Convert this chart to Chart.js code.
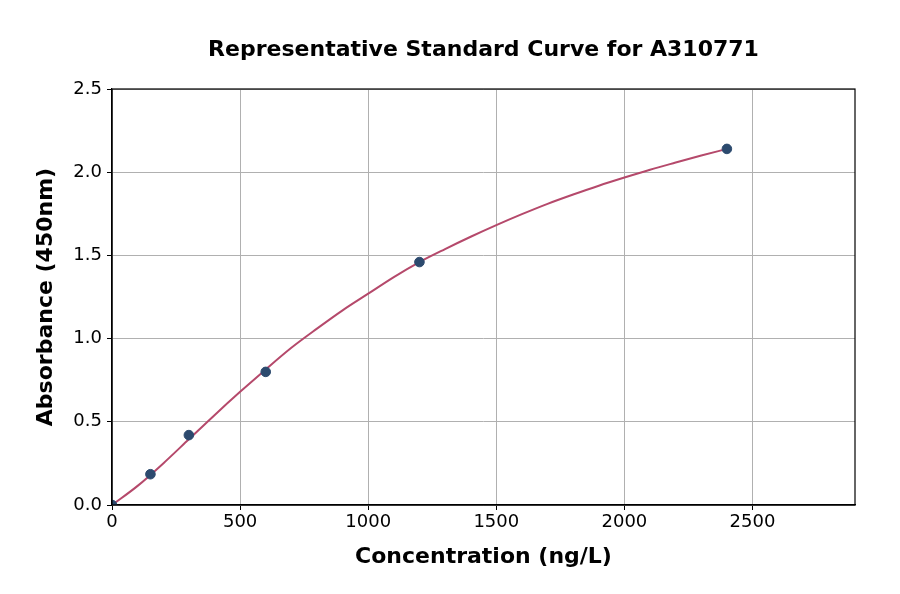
<!DOCTYPE html>
<html>
<head>
<meta charset="utf-8">
<script src="https://cdn.jsdelivr.net/npm/chart.js@4"></script>
<style>
  html, body { margin: 0; padding: 0; background: #fff; }
  #wrap { width: 900px; height: 594px; }
</style>
</head>
<body>
<div id="wrap"><canvas id="chart"></canvas></div>
<script>
// Standard points (measured)
const stdConc = [0, 150, 300, 600, 1200, 2400];
const stdAbs = [0.0, 0.185, 0.42, 0.80, 1.46, 2.14];

// Fitted curve
const curveConc = [0, 100, 200, 300, 400, 500, 600, 700, 800, 900, 1000, 1100, 1200,
                   1300, 1400, 1500, 1600, 1700, 1800, 1900, 2000, 2100, 2200, 2300, 2400];
const curveAbs = [0.0, 0.115, 0.25, 0.395, 0.54, 0.68, 0.815, 0.945, 1.06, 1.17, 1.27, 1.37, 1.46,
                  1.538, 1.612, 1.682, 1.748, 1.81, 1.866, 1.919, 1.968, 2.015, 2.058, 2.10, 2.14];

const xTicks = [0, 500, 1000, 1500, 2000, 2500];
const yTicks = [0, 0.5, 1.0, 1.5, 2.0, 2.5];

const chartTitle = 'Representative Standard Curve for A310771';
const FONT = 'DejaVu Sans';

// title centred over the plot, and the frame round it
const frame = {
    id: 'frame',
    afterDraw(chart) {
        const a = chart.chartArea;
        const ctx = chart.ctx;
        ctx.save();
        ctx.strokeStyle = '#000';
        ctx.lineWidth = 1.2;
        ctx.strokeRect(a.left, a.top, a.right - a.left, a.bottom - a.top);
        ctx.fillStyle = '#000';
        ctx.font = 'bold 22px "' + FONT + '"';
        ctx.textAlign = 'center';
        ctx.textBaseline = 'middle';
        ctx.fillText(chartTitle, (a.left + a.right) / 2, 50);
        ctx.restore();
    }
};

new Chart(document.getElementById('chart'), {
    type: 'scatter',
    data: {
        datasets: [
            {
                label: 'Fit',
                data: curveConc.map((x, i) => ({ x: x, y: curveAbs[i] })),
                showLine: true,
                borderColor: '#b5496b',
                borderWidth: 2,
                pointRadius: 0,
                cubicInterpolationMode: 'monotone',
                order: 2
            },
            {
                label: 'Standards',
                data: stdConc.map((x, i) => ({ x: x, y: stdAbs[i] })),
                backgroundColor: '#2c4a6e',
                borderColor: '#2c4a6e',
                pointRadius: 4.8,
                order: 1
            }
        ]
    },
    options: {
        responsive: true,
        maintainAspectRatio: false,
        animation: false,
        layout: { padding: { left: 0, right: 45, top: 89, bottom: 0 } },
        plugins: {
            legend: { display: false },
            tooltip: { enabled: false },
            title: { display: false }
        },
        scales: {
            x: {
                type: 'linear',
                min: 0,
                max: 2900,
                afterFit(s) { s.height = 89; },
                afterBuildTicks(s) { s.ticks = xTicks.map(v => ({ value: v })); },
                ticks: {
                    color: '#000',
                    font: { family: FONT, size: 18 },
                    padding: 2,
                    maxRotation: 0,
                    callback: v => String(v)
                },
                grid: { color: '#b0b0b0', lineWidth: 1, tickColor: '#000', tickLength: 5 },
                border: { color: '#000', width: 1.2 },
                title: {
                    display: true,
                    text: 'Concentration (ng/L)',
                    color: '#000',
                    font: { family: FONT, size: 22, weight: 'bold', lineHeight: 1.2 },
                    padding: { top: 0, bottom: 24 }
                }
            },
            y: {
                type: 'linear',
                min: 0,
                max: 2.5,
                afterFit(s) { s.width = 112; },
                afterBuildTicks(s) { s.ticks = yTicks.map(v => ({ value: v })); },
                ticks: {
                    color: '#000',
                    font: { family: FONT, size: 18 },
                    padding: 5,
                    callback: v => v.toFixed(1)
                },
                grid: { color: '#b0b0b0', lineWidth: 1, tickColor: '#000', tickLength: 5 },
                border: { color: '#000', width: 1.2 },
                title: {
                    display: true,
                    text: 'Absorbance (450nm)',
                    color: '#000',
                    font: { family: FONT, size: 22, weight: 'bold', lineHeight: 1.2 },
                    padding: { top: 32.8, bottom: 0 }
                }
            }
        }
    },
    plugins: [frame]
});
</script>
</body>
</html>
